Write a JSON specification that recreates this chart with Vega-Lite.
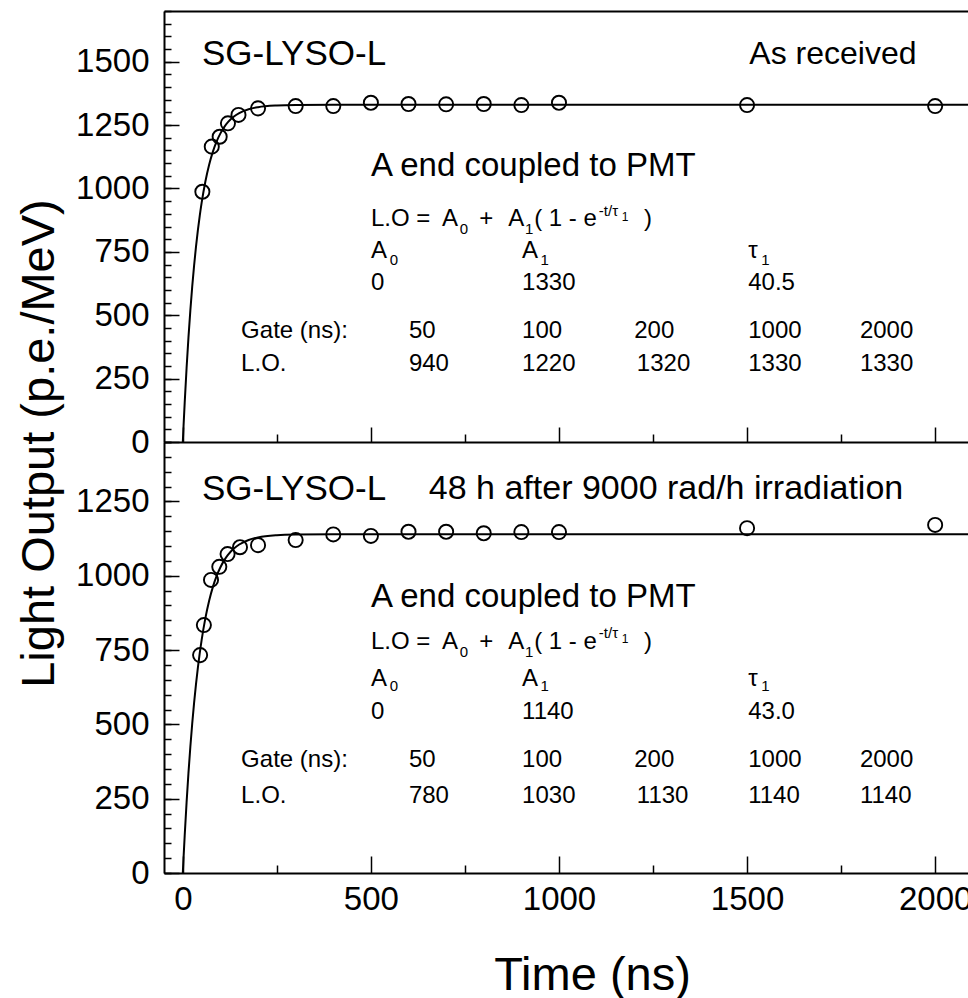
{
  "$schema": "https://vega.github.io/schema/vega-lite/v6.json",
  "background": "white",
  "padding": {"left": 15, "top": 10, "right": 0, "bottom": 0},
  "spacing": 0,
  "bounds": "flush",
  "config": {
    "view": {"stroke": null},
    "font": "Liberation Sans",
    "axis": {
      "grid": false,
      "domainColor": "black",
      "tickColor": "black",
      "labelColor": "black",
      "titleColor": "black",
      "labelFont": "Liberation Sans",
      "titleFont": "Liberation Sans",
      "titleFontWeight": "normal",
      "format": "d"
    }
  },
  "datasets": {
    "curveA": [
      {"t": 0, "lo": 0}, {"t": 2, "lo": 64.1}, {"t": 5, "lo": 154.5}, {"t": 10, "lo": 291.0}, {"t": 15, "lo": 411.7},
      {"t": 20, "lo": 518.3}, {"t": 25, "lo": 612.6}, {"t": 30, "lo": 695.9}, {"t": 35, "lo": 769.6}, {"t": 40, "lo": 834.7},
      {"t": 45, "lo": 892.2}, {"t": 50, "lo": 943.0}, {"t": 60, "lo": 1027.7}, {"t": 70, "lo": 1093.9}, {"t": 80, "lo": 1145.5},
      {"t": 90, "lo": 1185.9}, {"t": 100, "lo": 1217.4}, {"t": 110, "lo": 1242.0}, {"t": 120, "lo": 1261.3}, {"t": 135, "lo": 1282.6},
      {"t": 150, "lo": 1297.2}, {"t": 175, "lo": 1312.3}, {"t": 200, "lo": 1320.5}, {"t": 250, "lo": 1327.2}, {"t": 300, "lo": 1329.2},
      {"t": 400, "lo": 1329.9}, {"t": 500, "lo": 1330}, {"t": 2090, "lo": 1330}
    ],
    "curveB": [
      {"t": 0, "lo": 0}, {"t": 2, "lo": 51.8}, {"t": 5, "lo": 125.1}, {"t": 10, "lo": 236.6}, {"t": 15, "lo": 335.8},
      {"t": 20, "lo": 424.0}, {"t": 25, "lo": 502.6}, {"t": 30, "lo": 572.6}, {"t": 35, "lo": 634.9}, {"t": 40, "lo": 690.3},
      {"t": 45, "lo": 739.7}, {"t": 50, "lo": 783.6}, {"t": 60, "lo": 857.6}, {"t": 70, "lo": 916.2}, {"t": 80, "lo": 962.6},
      {"t": 90, "lo": 999.4}, {"t": 100, "lo": 1028.6}, {"t": 110, "lo": 1051.7}, {"t": 120, "lo": 1070.0}, {"t": 135, "lo": 1090.6},
      {"t": 150, "lo": 1105.2}, {"t": 175, "lo": 1120.5}, {"t": 200, "lo": 1129.1}, {"t": 250, "lo": 1136.6}, {"t": 300, "lo": 1138.9},
      {"t": 400, "lo": 1139.9}, {"t": 500, "lo": 1140}, {"t": 2090, "lo": 1140}
    ],
    "ptsA": [
      {"t": 52, "lo": 987}, {"t": 77, "lo": 1165}, {"t": 98, "lo": 1204}, {"t": 120, "lo": 1257}, {"t": 148, "lo": 1290},
      {"t": 200, "lo": 1316}, {"t": 300, "lo": 1325}, {"t": 400, "lo": 1325}, {"t": 500, "lo": 1338}, {"t": 600, "lo": 1333},
      {"t": 700, "lo": 1332}, {"t": 800, "lo": 1333}, {"t": 900, "lo": 1329}, {"t": 1000, "lo": 1338}, {"t": 1500, "lo": 1329},
      {"t": 2000, "lo": 1325}
    ],
    "ptsB": [
      {"t": 46, "lo": 733}, {"t": 56, "lo": 834}, {"t": 75, "lo": 986}, {"t": 97, "lo": 1030}, {"t": 119, "lo": 1073},
      {"t": 152, "lo": 1096}, {"t": 200, "lo": 1103}, {"t": 300, "lo": 1120}, {"t": 400, "lo": 1139}, {"t": 500, "lo": 1134},
      {"t": 600, "lo": 1148}, {"t": 700, "lo": 1148}, {"t": 800, "lo": 1143}, {"t": 900, "lo": 1147}, {"t": 1000, "lo": 1147},
      {"t": 1500, "lo": 1160}, {"t": 2000, "lo": 1171}
    ],
    "lab": [
      {"p": "a", "k": "h1", "x": 51, "y": 1530, "t": "SG-LYSO-L"},
      {"p": "a", "k": "h2", "x": 1506, "y": 1530, "t": "As received"},
      {"p": "a", "k": "h3", "x": 500, "y": 1089, "t": "A end coupled to PMT"},
      {"p": "a", "k": "m", "x": 500, "y": 880, "t": "L.O ="},
      {"p": "a", "k": "m", "x": 689, "y": 880, "t": "A"},
      {"p": "a", "k": "m", "x": 788, "y": 880, "t": "+"},
      {"p": "a", "k": "m", "x": 865, "y": 880, "t": "A"},
      {"p": "a", "k": "m", "x": 934, "y": 880, "t": "( 1 - e"},
      {"p": "a", "k": "m", "x": 1226, "y": 880, "t": ")"},
      {"p": "a", "k": "m", "x": 500, "y": 753, "t": "A"},
      {"p": "a", "k": "m", "x": 902, "y": 753, "t": "A"},
      {"p": "a", "k": "m", "x": 1503, "y": 753, "t": "τ"},
      {"p": "a", "k": "m", "x": 500, "y": 627, "t": "0"},
      {"p": "a", "k": "m", "x": 902, "y": 627, "t": "1330"},
      {"p": "a", "k": "m", "x": 1503, "y": 627, "t": "40.5"},
      {"p": "a", "k": "m", "x": 155, "y": 438, "t": "Gate (ns):"},
      {"p": "a", "k": "m", "x": 601, "y": 438, "t": "50"},
      {"p": "a", "k": "m", "x": 902, "y": 438, "t": "100"},
      {"p": "a", "k": "m", "x": 1200, "y": 438, "t": "200"},
      {"p": "a", "k": "m", "x": 1503, "y": 438, "t": "1000"},
      {"p": "a", "k": "m", "x": 1800, "y": 438, "t": "2000"},
      {"p": "a", "k": "m", "x": 155, "y": 308, "t": "L.O."},
      {"p": "a", "k": "m", "x": 601, "y": 308, "t": "940"},
      {"p": "a", "k": "m", "x": 902, "y": 308, "t": "1220"},
      {"p": "a", "k": "m", "x": 1207, "y": 308, "t": "1320"},
      {"p": "a", "k": "m", "x": 1503, "y": 308, "t": "1330"},
      {"p": "a", "k": "m", "x": 1800, "y": 308, "t": "1330"},
      {"p": "a", "k": "s", "x": 736, "y": 840, "t": "0"},
      {"p": "a", "k": "s", "x": 910, "y": 840, "t": "1"},
      {"p": "a", "k": "s", "x": 1106, "y": 911, "t": "-t/τ"},
      {"p": "a", "k": "s", "x": 550, "y": 718, "t": "0"},
      {"p": "a", "k": "s", "x": 951, "y": 718, "t": "1"},
      {"p": "a", "k": "s", "x": 1538, "y": 718, "t": "1"},
      {"p": "a", "k": "ss", "x": 1167, "y": 887, "t": "1"},
      {"p": "b", "k": "h1", "x": 51, "y": 1292, "t": "SG-LYSO-L"},
      {"p": "b", "k": "h4", "x": 654, "y": 1292, "t": "48 h after 9000 rad/h irradiation"},
      {"p": "b", "k": "h3", "x": 500, "y": 929, "t": "A end coupled to PMT"},
      {"p": "b", "k": "m", "x": 500, "y": 777, "t": "L.O ="},
      {"p": "b", "k": "m", "x": 689, "y": 777, "t": "A"},
      {"p": "b", "k": "m", "x": 788, "y": 777, "t": "+"},
      {"p": "b", "k": "m", "x": 865, "y": 777, "t": "A"},
      {"p": "b", "k": "m", "x": 934, "y": 777, "t": "( 1 - e"},
      {"p": "b", "k": "m", "x": 1226, "y": 777, "t": ")"},
      {"p": "b", "k": "m", "x": 500, "y": 653, "t": "A"},
      {"p": "b", "k": "m", "x": 902, "y": 653, "t": "A"},
      {"p": "b", "k": "m", "x": 1503, "y": 653, "t": "τ"},
      {"p": "b", "k": "m", "x": 500, "y": 542, "t": "0"},
      {"p": "b", "k": "m", "x": 902, "y": 542, "t": "1140"},
      {"p": "b", "k": "m", "x": 1503, "y": 542, "t": "43.0"},
      {"p": "b", "k": "m", "x": 155, "y": 380, "t": "Gate (ns):"},
      {"p": "b", "k": "m", "x": 601, "y": 380, "t": "50"},
      {"p": "b", "k": "m", "x": 902, "y": 380, "t": "100"},
      {"p": "b", "k": "m", "x": 1200, "y": 380, "t": "200"},
      {"p": "b", "k": "m", "x": 1503, "y": 380, "t": "1000"},
      {"p": "b", "k": "m", "x": 1800, "y": 380, "t": "2000"},
      {"p": "b", "k": "m", "x": 155, "y": 259, "t": "L.O."},
      {"p": "b", "k": "m", "x": 601, "y": 259, "t": "780"},
      {"p": "b", "k": "m", "x": 902, "y": 259, "t": "1030"},
      {"p": "b", "k": "m", "x": 1207, "y": 259, "t": "1130"},
      {"p": "b", "k": "m", "x": 1503, "y": 259, "t": "1140"},
      {"p": "b", "k": "m", "x": 1800, "y": 259, "t": "1140"},
      {"p": "b", "k": "s", "x": 736, "y": 743, "t": "0"},
      {"p": "b", "k": "s", "x": 910, "y": 743, "t": "1"},
      {"p": "b", "k": "s", "x": 1106, "y": 807, "t": "-t/τ"},
      {"p": "b", "k": "s", "x": 550, "y": 629, "t": "0"},
      {"p": "b", "k": "s", "x": 951, "y": 629, "t": "1"},
      {"p": "b", "k": "s", "x": 1538, "y": 629, "t": "1"},
      {"p": "b", "k": "ss", "x": 1167, "y": 787, "t": "1"}
    ]
  },
  "vconcat": [
    {
      "width": 805,
      "height": 431,
      "resolve": {"axis": {"x": "independent", "y": "independent"}},
      "layer": [
        {
          "data": {"name": "curveA"},
          "mark": {"type": "line", "color": "black", "strokeWidth": 2, "interpolate": "monotone", "clip": true},
          "encoding": {
            "x": {"field": "t", "type": "quantitative", "scale": {"domain": [-50, 2090], "nice": false, "zero": false},
              "axis": {"orient": "bottom", "values": [0, 500, 1000, 1500, 2000], "labels": false, "title": null, "tickSize": -15, "tickWidth": 1.5, "domainWidth": 2}},
            "y": {"field": "lo", "type": "quantitative", "scale": {"domain": [0, 1700], "nice": false, "zero": false},
              "axis": {"orient": "left", "values": [0, 250, 500, 750, 1000, 1250, 1500], "tickSize": -15, "tickWidth": 1.5, "domainWidth": 2,
                "labelFontSize": 33, "labelPadding": 30,
                "title": "Light Output (p.e./MeV)", "titleFontSize": 47, "titleX": -125, "titleY": 432, "titleAlign": "center", "titleBaseline": "middle", "titleAngle": -90}}
          }
        },
        {
          "data": {"name": "ptsA"},
          "mark": {"type": "point", "shape": "circle", "filled": false, "stroke": "black", "strokeWidth": 1.9, "size": 200, "opacity": 1},
          "encoding": {
            "x": {"field": "t", "type": "quantitative", "scale": {"domain": [-50, 2090], "nice": false, "zero": false},
              "axis": {"orient": "bottom", "values": [250, 750, 1250, 1750], "labels": false, "title": null, "tickSize": -8, "tickWidth": 1.5, "domain": false}},
            "y": {"field": "lo", "type": "quantitative", "scale": {"domain": [0, 1700], "nice": false, "zero": false},
              "axis": {"orient": "left", "values": [0, 50, 100, 150, 200, 250, 300, 350, 400, 450, 500, 550, 600, 650, 700, 750, 800, 850, 900, 950, 1000, 1050, 1100, 1150, 1200, 1250, 1300, 1350, 1400, 1450, 1500, 1550, 1600, 1650, 1700],
                "labels": false, "title": null, "tickSize": -7, "tickWidth": 1.5, "domain": false}}
          }
        },
        {
          "data": {"name": "lab"},
          "transform": [{"filter": "datum.p == 'a' && datum.k == 'h1'"}],
          "mark": {"type": "text", "align": "left", "baseline": "middle", "font": "Liberation Sans", "fontSize": 35, "fill": "black"},
          "encoding": {
            "x": {"field": "x", "type": "quantitative", "scale": {"domain": [-50, 2090], "nice": false, "zero": false},
              "axis": {"orient": "top", "ticks": false, "labels": false, "title": null, "domainWidth": 2}},
            "y": {"field": "y", "type": "quantitative", "scale": {"domain": [0, 1700], "nice": false, "zero": false}, "axis": null},
            "text": {"field": "t"}
          }
        },
        {
          "data": {"name": "lab"},
          "transform": [{"filter": "datum.p == 'a' && datum.k == 'h2'"}],
          "mark": {"type": "text", "align": "left", "baseline": "middle", "font": "Liberation Sans", "fontSize": 32, "fill": "black"},
          "encoding": {
            "x": {"field": "x", "type": "quantitative", "scale": {"domain": [-50, 2090], "nice": false, "zero": false}, "axis": null},
            "y": {"field": "y", "type": "quantitative", "scale": {"domain": [0, 1700], "nice": false, "zero": false}, "axis": null},
            "text": {"field": "t"}
          }
        },
        {
          "data": {"name": "lab"},
          "transform": [{"filter": "datum.p == 'a' && datum.k == 'h3'"}],
          "mark": {"type": "text", "align": "left", "baseline": "middle", "font": "Liberation Sans", "fontSize": 33, "fill": "black"},
          "encoding": {
            "x": {"field": "x", "type": "quantitative", "scale": {"domain": [-50, 2090], "nice": false, "zero": false}, "axis": null},
            "y": {"field": "y", "type": "quantitative", "scale": {"domain": [0, 1700], "nice": false, "zero": false}, "axis": null},
            "text": {"field": "t"}
          }
        },
        {
          "data": {"name": "lab"},
          "transform": [{"filter": "datum.p == 'a' && datum.k == 'm'"}],
          "mark": {"type": "text", "align": "left", "baseline": "middle", "font": "Liberation Sans", "fontSize": 24, "fill": "black"},
          "encoding": {
            "x": {"field": "x", "type": "quantitative", "scale": {"domain": [-50, 2090], "nice": false, "zero": false}, "axis": null},
            "y": {"field": "y", "type": "quantitative", "scale": {"domain": [0, 1700], "nice": false, "zero": false}, "axis": null},
            "text": {"field": "t"}
          }
        },
        {
          "data": {"name": "lab"},
          "transform": [{"filter": "datum.p == 'a' && datum.k == 's'"}],
          "mark": {"type": "text", "align": "left", "baseline": "middle", "font": "Liberation Sans", "fontSize": 15, "fill": "black"},
          "encoding": {
            "x": {"field": "x", "type": "quantitative", "scale": {"domain": [-50, 2090], "nice": false, "zero": false}, "axis": null},
            "y": {"field": "y", "type": "quantitative", "scale": {"domain": [0, 1700], "nice": false, "zero": false}, "axis": null},
            "text": {"field": "t"}
          }
        },
        {
          "data": {"name": "lab"},
          "transform": [{"filter": "datum.p == 'a' && datum.k == 'ss'"}],
          "mark": {"type": "text", "align": "left", "baseline": "middle", "font": "Liberation Sans", "fontSize": 12, "fill": "black"},
          "encoding": {
            "x": {"field": "x", "type": "quantitative", "scale": {"domain": [-50, 2090], "nice": false, "zero": false}, "axis": null},
            "y": {"field": "y", "type": "quantitative", "scale": {"domain": [0, 1700], "nice": false, "zero": false}, "axis": null},
            "text": {"field": "t"}
          }
        }
      ]
    },
    {
      "width": 805,
      "height": 431,
      "resolve": {"axis": {"x": "independent", "y": "independent"}},
      "layer": [
        {
          "data": {"name": "curveB"},
          "mark": {"type": "line", "color": "black", "strokeWidth": 2, "interpolate": "monotone", "clip": true},
          "encoding": {
            "x": {"field": "t", "type": "quantitative", "scale": {"domain": [-50, 2090], "nice": false, "zero": false},
              "axis": {"orient": "bottom", "values": [0, 500, 1000, 1500, 2000], "tickSize": -17, "tickWidth": 1.5, "domainWidth": 2,
                "labelFontSize": 33, "labelPadding": 27,
                "title": "Time (ns)", "titleFontSize": 47, "titleX": 428, "titleY": 116, "titleAlign": "center", "titleBaseline": "alphabetic"}},
            "y": {"field": "lo", "type": "quantitative", "scale": {"domain": [0, 1450], "nice": false, "zero": false},
              "axis": {"orient": "left", "values": [0, 250, 500, 750, 1000, 1250], "tickSize": -15, "tickWidth": 1.5, "domainWidth": 2,
                "labelFontSize": 33, "labelPadding": 30, "title": null}}
          }
        },
        {
          "data": {"name": "ptsB"},
          "mark": {"type": "point", "shape": "circle", "filled": false, "stroke": "black", "strokeWidth": 1.9, "size": 200, "opacity": 1},
          "encoding": {
            "x": {"field": "t", "type": "quantitative", "scale": {"domain": [-50, 2090], "nice": false, "zero": false},
              "axis": {"orient": "bottom", "values": [250, 750, 1250, 1750], "labels": false, "title": null, "tickSize": -8, "tickWidth": 1.5, "domain": false}},
            "y": {"field": "lo", "type": "quantitative", "scale": {"domain": [0, 1450], "nice": false, "zero": false},
              "axis": {"orient": "left", "values": [0, 50, 100, 150, 200, 250, 300, 350, 400, 450, 500, 550, 600, 650, 700, 750, 800, 850, 900, 950, 1000, 1050, 1100, 1150, 1200, 1250, 1300, 1350, 1400, 1450],
                "labels": false, "title": null, "tickSize": -7, "tickWidth": 1.5, "domain": false}}
          }
        },
        {
          "data": {"name": "lab"},
          "transform": [{"filter": "datum.p == 'b' && datum.k == 'h1'"}],
          "mark": {"type": "text", "align": "left", "baseline": "middle", "font": "Liberation Sans", "fontSize": 35, "fill": "black"},
          "encoding": {
            "x": {"field": "x", "type": "quantitative", "scale": {"domain": [-50, 2090], "nice": false, "zero": false}, "axis": null},
            "y": {"field": "y", "type": "quantitative", "scale": {"domain": [0, 1450], "nice": false, "zero": false}, "axis": null},
            "text": {"field": "t"}
          }
        },
        {
          "data": {"name": "lab"},
          "transform": [{"filter": "datum.p == 'b' && datum.k == 'h4'"}],
          "mark": {"type": "text", "align": "left", "baseline": "middle", "font": "Liberation Sans", "fontSize": 34, "fill": "black"},
          "encoding": {
            "x": {"field": "x", "type": "quantitative", "scale": {"domain": [-50, 2090], "nice": false, "zero": false}, "axis": null},
            "y": {"field": "y", "type": "quantitative", "scale": {"domain": [0, 1450], "nice": false, "zero": false}, "axis": null},
            "text": {"field": "t"}
          }
        },
        {
          "data": {"name": "lab"},
          "transform": [{"filter": "datum.p == 'b' && datum.k == 'h3'"}],
          "mark": {"type": "text", "align": "left", "baseline": "middle", "font": "Liberation Sans", "fontSize": 33, "fill": "black"},
          "encoding": {
            "x": {"field": "x", "type": "quantitative", "scale": {"domain": [-50, 2090], "nice": false, "zero": false}, "axis": null},
            "y": {"field": "y", "type": "quantitative", "scale": {"domain": [0, 1450], "nice": false, "zero": false}, "axis": null},
            "text": {"field": "t"}
          }
        },
        {
          "data": {"name": "lab"},
          "transform": [{"filter": "datum.p == 'b' && datum.k == 'm'"}],
          "mark": {"type": "text", "align": "left", "baseline": "middle", "font": "Liberation Sans", "fontSize": 24, "fill": "black"},
          "encoding": {
            "x": {"field": "x", "type": "quantitative", "scale": {"domain": [-50, 2090], "nice": false, "zero": false}, "axis": null},
            "y": {"field": "y", "type": "quantitative", "scale": {"domain": [0, 1450], "nice": false, "zero": false}, "axis": null},
            "text": {"field": "t"}
          }
        },
        {
          "data": {"name": "lab"},
          "transform": [{"filter": "datum.p == 'b' && datum.k == 's'"}],
          "mark": {"type": "text", "align": "left", "baseline": "middle", "font": "Liberation Sans", "fontSize": 15, "fill": "black"},
          "encoding": {
            "x": {"field": "x", "type": "quantitative", "scale": {"domain": [-50, 2090], "nice": false, "zero": false}, "axis": null},
            "y": {"field": "y", "type": "quantitative", "scale": {"domain": [0, 1450], "nice": false, "zero": false}, "axis": null},
            "text": {"field": "t"}
          }
        },
        {
          "data": {"name": "lab"},
          "transform": [{"filter": "datum.p == 'b' && datum.k == 'ss'"}],
          "mark": {"type": "text", "align": "left", "baseline": "middle", "font": "Liberation Sans", "fontSize": 12, "fill": "black"},
          "encoding": {
            "x": {"field": "x", "type": "quantitative", "scale": {"domain": [-50, 2090], "nice": false, "zero": false}, "axis": null},
            "y": {"field": "y", "type": "quantitative", "scale": {"domain": [0, 1450], "nice": false, "zero": false}, "axis": null},
            "text": {"field": "t"}
          }
        }
      ]
    }
  ]
}
